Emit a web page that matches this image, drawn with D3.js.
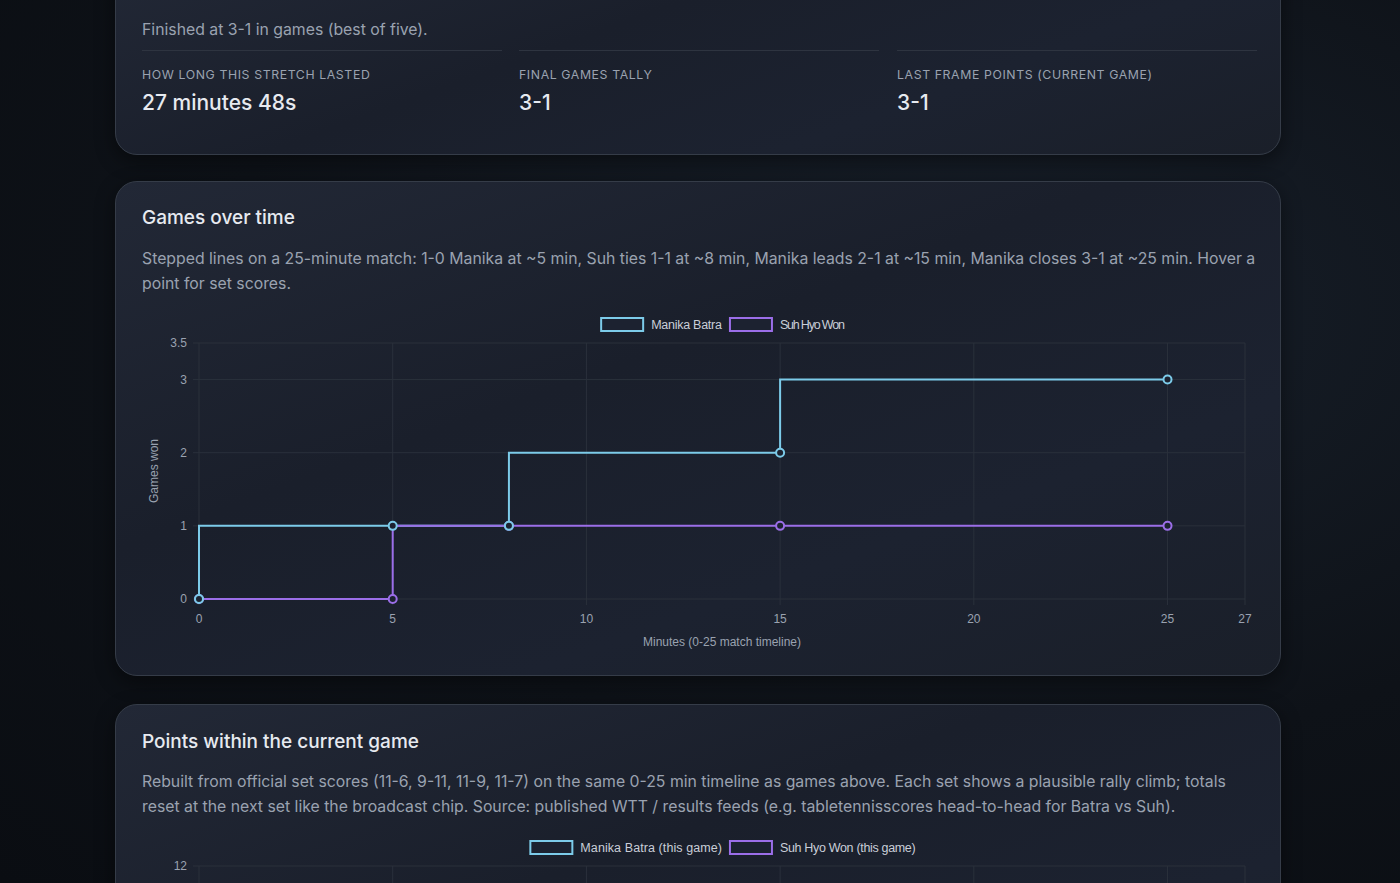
<!DOCTYPE html>
<html><head><meta charset="utf-8">
<script src="https://cdn.jsdelivr.net/npm/d3@7"></script>
<style>
  body{margin:0;width:1400px;height:883px;overflow:hidden;font-family:Inter,"Noto Sans",sans-serif;
    background:radial-gradient(ellipse at 70% 35%,#18202b 0%,#0e1218 55%,#0a0d12 100%);}
  .card{position:absolute;left:115px;width:1164px;border:1px solid #353c48;border-radius:22px;
    background:linear-gradient(160deg,#222836 0%,#1a1f2b 40%,#1c2230 70%,#1a1f29 100%);box-shadow:0 6px 20px rgba(0,0,0,.45);}
  .t{position:absolute;color:#e7eaf0;}
  .h{font-size:19px;font-weight:500;left:26px;}
  .d{font-size:15.8px;color:#9aa2b0;left:26px;width:1120px;line-height:25px;}
  .lab{font-size:12.3px;letter-spacing:.6px;color:#9aa2b0;}
  .val{font-size:21px;font-weight:500;}
  .sep{position:absolute;height:1px;background:#2e3440;}
  svg{position:absolute;left:0;top:0;}
  svg text{font-family:"Liberation Sans",Arial,sans-serif;}
</style></head><body>
<div class="card" style="top:-40px;height:193px">
  <div class="t d" style="top:56px">Finished at 3-1 in games (best of five).</div>
  <div class="sep" style="left:26px;width:360px;top:89px"></div>
  <div class="sep" style="left:403px;width:360px;top:89px"></div>
  <div class="sep" style="left:781px;width:360px;top:89px"></div>
  <div class="t lab" style="left:26px;top:106px">HOW LONG THIS STRETCH LASTED</div>
  <div class="t lab" style="left:403px;top:106px">FINAL GAMES TALLY</div>
  <div class="t lab" style="left:781px;top:106px">LAST FRAME POINTS (CURRENT GAME)</div>
  <div class="t val" style="left:26px;top:129px">27 minutes 48s</div>
  <div class="t val" style="left:403px;top:129px">3-1</div>
  <div class="t val" style="left:781px;top:129px">3-1</div>
</div>
<div class="card" id="c1" style="top:181px;height:493px">
  <div class="t h" style="top:24px">Games over time</div>
  <div class="t d" style="top:64px">Stepped lines on a 25-minute match: 1-0 Manika at ~5 min, Suh ties 1-1 at ~8 min, Manika leads 2-1 at ~15 min, Manika closes 3-1 at ~25 min. Hover a point for set scores.</div>
</div>
<div class="card" id="c2" style="top:704px;height:400px">
  <div class="t h" style="top:25px">Points within the current game</div>
  <div class="t d" style="top:64px">Rebuilt from official set scores (11-6, 9-11, 11-9, 11-7) on the same 0-25 min timeline as games above. Each set shows a plausible rally climb; totals reset at the next set like the broadcast chip. Source: published WTT / results feeds (e.g. tabletennisscores head-to-head for Batra vs Suh).</div>
</div>
<script>
const minutes = [0, 5, 8, 15, 25];
const manikaGames = [0, 1, 1, 2, 3];
const suhGames = [0, 0, 1, 1, 1];
const xTicks = [0, 5, 10, 15, 20, 25, 27];
const yTicks1 = [0, 1, 2, 3, 3.5];
const yTicks2 = [0, 2, 4, 6, 8, 10, 12];
const cyan = "#7ccbe9", purple = "#9b6ee8";
const grid = "#2a303b", tick = "#9aa2b0";

function chart(sel, top, yMax, yTicks, yLabel, series, legend, xLabel, visibleBottom) {
  const card = d3.select(sel);
  const svg = card.append("svg").attr("width", 1164).attr("height", 493);
  const x = d3.scaleLinear().domain([0, 27]).range([83, 1129]);
  const y = d3.scaleLinear().domain([0, yMax]).range([top + 256, top]);
  const shown = v => v < visibleBottom;
  // grid
  svg.append("g").selectAll("line").data(xTicks).join("line")
    .attr("x1", d => x(d)).attr("x2", d => x(d)).attr("y1", top).attr("y2", top + 262)
    .attr("stroke", grid);
  svg.append("g").selectAll("line").data(yTicks).join("line")
    .attr("x1", x(0) - 6).attr("x2", x(27)).attr("y1", d => y(d)).attr("y2", d => y(d))
    .attr("stroke", grid);
  svg.append("g").selectAll("text").data(yTicks.filter(d => shown(y(d) + 8))).join("text")
    .attr("x", x(0) - 12).attr("y", d => y(d) + 4).attr("text-anchor", "end")
    .attr("fill", tick).attr("font-size", 12).text(d => d);
  if (shown(top + 285)) svg.append("g").selectAll("text").data(xTicks).join("text")
    .attr("x", d => x(d)).attr("y", top + 280).attr("text-anchor", "middle")
    .attr("fill", tick).attr("font-size", 12).text(d => d);
  if (xLabel) svg.append("text").attr("x", (x(0) + x(27)) / 2).attr("y", top + 303)
    .attr("text-anchor", "middle").attr("fill", tick).attr("font-size", 12).text(xLabel);
  if (yLabel) svg.append("text").attr("transform", `translate(42,${top + 128}) rotate(-90)`)
    .attr("text-anchor", "middle").attr("fill", tick).attr("font-size", 12).text(yLabel);
  // legend
  const widths = legend.map(l => l.text.length * 5.9 + 58);
  const total = d3.sum(widths) - 10;
  let lx = (x(0) + x(27)) / 2 - total / 2;
  legend.forEach((l, i) => {
    svg.append("rect").attr("x", lx).attr("y", top - 25).attr("width", 42).attr("height", 13)
      .attr("fill", "#1c2230").attr("stroke", l.color).attr("stroke-width", 2);
    svg.append("text").attr("x", lx + 50).attr("y", top - 14).attr("fill", "#c9ced8")
      .attr("font-size", 12.5).attr("textLength", l.text.length * 5.9).text(l.text);
    lx += widths[i];
  });
  const line = d3.line().x(d => x(d[0])).y(d => y(d[1])).curve(d3.curveStepBefore);
  series.forEach(s => {
    const pts = minutes.map((m, i) => [m, s.values[i]]);
    svg.append("path").datum(pts).attr("d", line).attr("fill", "none")
      .attr("stroke", s.color).attr("stroke-width", 2);
  });
  series.slice().reverse().forEach(s => {
    svg.append("g").selectAll("circle").data(minutes.map((m, i) => [m, s.values[i]])).join("circle")
      .attr("cx", d => x(d[0])).attr("cy", d => y(d[1])).attr("r", 4)
      .attr("fill", "#1c2230").attr("stroke", s.color).attr("stroke-width", 2);
  });
}

chart("#c1", 161, 3.5, yTicks1, "Games won",
  [{values: manikaGames, color: cyan}, {values: suhGames, color: purple}],
  [{text: "Manika Batra", color: cyan}, {text: "Suh Hyo Won", color: purple}],
  "Minutes (0-25 match timeline)", 1000);

chart("#c2", 161, 12, yTicks2, "", [],
  [{text: "Manika Batra (this game)", color: cyan}, {text: "Suh Hyo Won (this game)", color: purple}], "", 883 - 704);
</script>
</body></html>
